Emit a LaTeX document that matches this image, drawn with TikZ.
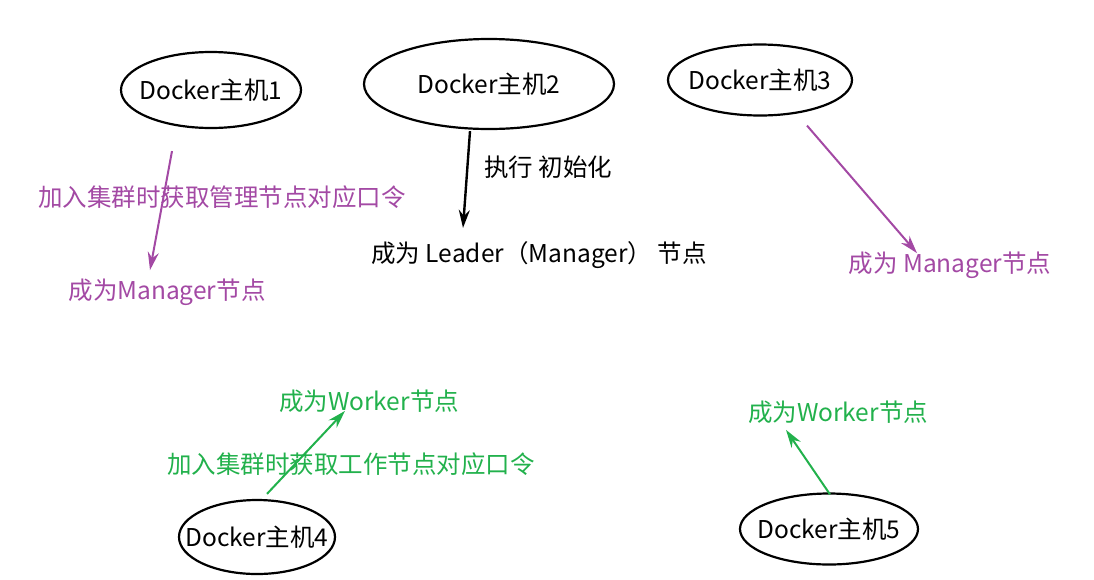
\documentclass[tikz,border=0pt]{standalone}
\usepackage{fontspec}
\setmainfont{Noto Sans CJK SC}
\usetikzlibrary{shapes.geometric,arrows.meta}
\definecolor{mgrpurple}{HTML}{A349A4}
\definecolor{wkgreen}{HTML}{22B14C}
\begin{document}
\begin{tikzpicture}[x=1pt,y=-1pt]
    \tikzstyle{every node}=[font=\fontsize{24.5}{28}\selectfont, align=center]
    \tikzset{
        host/.style={draw, ellipse, line width=2.2pt, inner sep=0pt},
        mgr/.style={text=mgrpurple},
        wk/.style={text=wkgreen},
        mgrarrow/.style={draw=mgrpurple, line width=2pt, -{Stealth[length=18pt,width=11pt]}},
        wkarrow/.style={draw=wkgreen, line width=2pt, -{Stealth[length=18pt,width=11pt]}},
        initarrow/.style={draw=black, line width=2.4pt, -{Stealth[length=18pt,width=11pt]}}
        }
    \useasboundingbox (0,0) rectangle (1094,579);

    %hosts
    \node (host1) [host, minimum width=180pt, minimum height=76pt, label=center:{Docker主机1}] at (211,90) {};
    \node (host2) [host, minimum width=250pt, minimum height=90pt, label=center:{Docker主机2}] at (489,84) {};
    \node (host3) [host, minimum width=184pt, minimum height=71pt, label=center:{Docker主机3}] at (760,80) {};
    \node (host4) [host, minimum width=156pt, minimum height=74pt, label=center:{Docker主机4}] at (257,537) {};
    \node (host5) [host, minimum width=178pt, minimum height=71pt, label=center:{Docker主机5}] at (829,529) {};

    %manager side
    \node (join1) [mgr] at (222,197) {加入集群时获取管理节点对应口令};
    \node (mgr1) [mgr] at (167,292) {成为Manager节点};
    \node (init) at (548,167) {执行 初始化};
    \node (leader) at (539,255) {成为 Leader（Manager） 节点};
    \node (mgr3) [mgr] at (950,265) {成为 Manager节点};

    %worker side
    \node (wk4) [wk] at (369,401) {成为Worker节点};
    \node (join4) [wk] at (351,464) {加入集群时获取工作节点对应口令};
    \node (wk5) [wk] at (838,412) {成为Worker节点};

    \draw[mgrarrow] ([shift={(-39,22)}]host1.south) -- ([shift={(-17,-5)}]mgr1.north);
    \draw[initarrow] ([shift={(-19,1)}]host2.south) -- ([shift={(-76,-10)}]leader.north);
    \draw[mgrarrow] ([shift={(47,9)}]host3.south) -- ([shift={(-33,5)}]mgr3.north);

    \draw[wkarrow] ([shift={(10,-5)}]host4.north) -- ([shift={(-24,-5)}]wk4.south);
    \draw[wkarrow] ([shift={(1,2)}]host5.north) -- ([shift={(-52,3)}]wk5.south);
\end{tikzpicture}
\end{document}
